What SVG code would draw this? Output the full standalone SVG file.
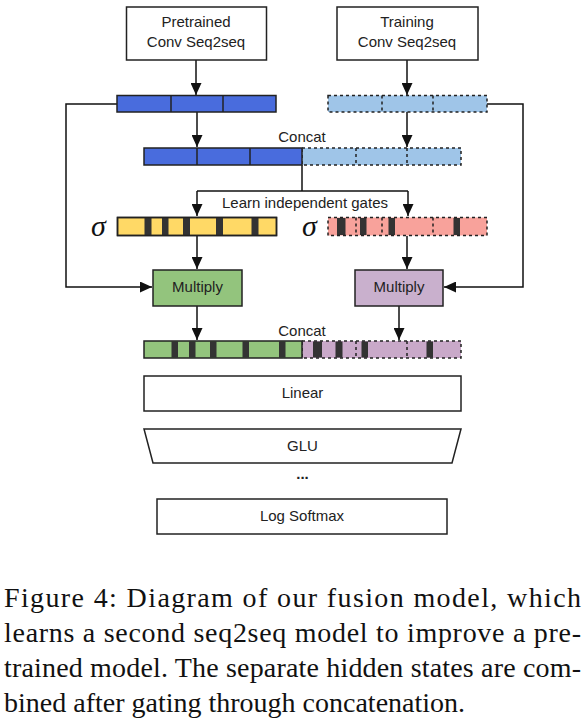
<svg xmlns="http://www.w3.org/2000/svg" width="586" height="723" viewBox="0 0 586 723">
<style>
.box{fill:#fff;stroke:#222;stroke-width:1.5}
.t{font-family:"Liberation Sans",Arial,sans-serif;font-size:15px;fill:#222;text-anchor:middle}
.bar{stroke:#222;stroke-width:1.5}
.dash{stroke:#222;stroke-width:1.5;stroke-dasharray:3 3}
.div{stroke:#222;stroke-width:1.5}
.ddiv{stroke:#222;stroke-width:1.5;stroke-dasharray:3 3}
.st{fill:#333}
.ln{fill:none;stroke:#111;stroke-width:1.5}
.sig{font-family:"Liberation Serif","Times New Roman",serif;font-style:italic;font-size:30px;fill:#111}
.cap{font-family:"Liberation Serif","Times New Roman",serif;font-size:28px;fill:#111}
</style>
<defs>
<marker id="ah" viewBox="0 0 12 11" refX="12" refY="5.5" markerWidth="12" markerHeight="11" orient="auto" markerUnits="userSpaceOnUse">
<path d="M0,0 L12,5.5 L0,11 Z" fill="#111"/>
</marker>
</defs>
<rect width="586" height="723" fill="#fff"/>

<g id="connectors">
<path class="ln" d="M196,60 V95" marker-end="url(#ah)"/>
<path class="ln" d="M407,60 V95" marker-end="url(#ah)"/>
<path class="ln" d="M197,112 V147" marker-end="url(#ah)"/>
<path class="ln" d="M407,112 V147" marker-end="url(#ah)"/>
<path class="ln" d="M117,104 H66 V287 H152" marker-end="url(#ah)"/>
<path class="ln" d="M487,104 H523 V287 H444" marker-end="url(#ah)"/>
<path class="ln" d="M302,165 V191"/>
<path class="ln" d="M197,191 H408"/>
<path class="ln" d="M197,191 V216" marker-end="url(#ah)"/>
<path class="ln" d="M408,191 V216" marker-end="url(#ah)"/>
<path class="ln" d="M197,236 V269" marker-end="url(#ah)"/>
<path class="ln" d="M407,236 V269" marker-end="url(#ah)"/>
<path class="ln" d="M197,306 V340" marker-end="url(#ah)"/>
<path class="ln" d="M399,306 V340" marker-end="url(#ah)"/>
</g>

<g id="pretrained">
<rect class="box" x="126.5" y="7" width="140" height="53"/>
<text class="t" x="196" y="27">Pretrained</text>
<text class="t" x="196" y="47">Conv Seq2seq</text>
</g>
<g id="training">
<rect class="box" x="337" y="7" width="141" height="53"/>
<text class="t" x="407" y="27">Training</text>
<text class="t" x="407" y="47">Conv Seq2seq</text>
</g>

<g id="pretrained-state">
<rect class="bar" x="117" y="95.5" width="159" height="16.5" fill="#496cdd"/>
<line class="div" x1="171" y1="95.5" x2="171" y2="112"/>
<line class="div" x1="223" y1="95.5" x2="223" y2="112"/>
</g>
<g id="training-state">
<rect class="dash" x="328" y="95.5" width="159" height="16.5" fill="#9fc5e8"/>
<line class="ddiv" x1="382" y1="95.5" x2="382" y2="112"/>
<line class="ddiv" x1="433" y1="95.5" x2="433" y2="112"/>
</g>

<g id="concat1">
<text class="t" x="302" y="142">Concat</text>
<rect x="302" y="148" width="159" height="17" fill="#9fc5e8" class="dash"/>
<rect class="bar" x="144" y="148" width="158" height="17" fill="#496cdd"/>
<line class="div" x1="197" y1="148" x2="197" y2="165"/>
<line class="div" x1="250" y1="148" x2="250" y2="165"/>
<line class="ddiv" x1="356" y1="148" x2="356" y2="165"/>
<line class="ddiv" x1="407" y1="148" x2="407" y2="165"/>
</g>

<g id="gates-label">
<text class="t" x="305" y="208">Learn independent gates</text>
</g>

<g id="gate-left">
<text class="sig" x="91" y="236">σ</text>
<rect class="bar" x="117.5" y="217.5" width="159" height="18" fill="#ffd966"/>
<rect class="st" x="144.5" y="218" width="7" height="17"/>
<rect class="st" x="162" y="218" width="6.5" height="17"/>
<rect class="st" x="183" y="218" width="7" height="17"/>
<rect class="st" x="216" y="218" width="7" height="17"/>
<rect class="st" x="251.5" y="218" width="7" height="17"/>
<rect x="117.5" y="217.5" width="159" height="18" fill="none" stroke="#222" stroke-width="1.5"/>
</g>

<g id="gate-right">
<text class="sig" x="302" y="236">σ</text>
<rect x="328" y="217.5" width="159" height="18" fill="#f8a29b"/>
<rect class="st" x="337" y="218" width="8.5" height="17"/>
<rect class="st" x="360" y="218" width="6.5" height="17"/>
<rect class="st" x="388.5" y="218" width="6.5" height="17"/>
<rect class="st" x="453.5" y="218" width="6.5" height="17"/>
<line class="ddiv" x1="356" y1="217.5" x2="356" y2="235.5"/>
<line class="ddiv" x1="382" y1="217.5" x2="382" y2="235.5"/>
<line class="ddiv" x1="433" y1="217.5" x2="433" y2="235.5"/>
<rect class="dash" x="328" y="217.5" width="159" height="18" fill="none"/>
</g>

<g id="multiply-left">
<rect x="153" y="270" width="89" height="36" fill="#93c47d" stroke="#222" stroke-width="1.5"/>
<text class="t" x="197.5" y="292">Multiply</text>
</g>
<g id="multiply-right">
<rect x="355" y="270" width="88" height="36" fill="#c9b0cd" stroke="#222" stroke-width="1.5"/>
<text class="t" x="399" y="292">Multiply</text>
</g>

<g id="concat2">
<text class="t" x="302" y="336">Concat</text>
<rect x="302" y="341" width="159" height="17" fill="#c9a9c9"/>
<rect class="st" x="313" y="341.5" width="9" height="16"/>
<rect class="st" x="335.5" y="341.5" width="7" height="16"/>
<rect class="st" x="361.5" y="341.5" width="6.5" height="16"/>
<rect class="st" x="426.5" y="341.5" width="6.5" height="16"/>
<line class="ddiv" x1="356" y1="341" x2="356" y2="358"/>
<line class="ddiv" x1="407" y1="341" x2="407" y2="358"/>
<rect class="dash" x="302" y="341" width="159" height="17" fill="none"/>
<rect x="144" y="341" width="158" height="17" fill="#93c47d"/>
<rect class="st" x="171.5" y="341.5" width="6.5" height="16"/>
<rect class="st" x="189" y="341.5" width="6.5" height="16"/>
<rect class="st" x="210" y="341.5" width="6.5" height="16"/>
<rect class="st" x="242.5" y="341.5" width="6.5" height="16"/>
<rect class="st" x="279" y="341.5" width="6.5" height="16"/>
<rect x="144" y="341" width="158" height="17" fill="none" stroke="#222" stroke-width="1.5"/>
</g>

<g id="linear">
<rect class="box" x="144" y="376" width="317" height="35"/>
<text class="t" x="302.5" y="398">Linear</text>
</g>
<g id="glu">
<polygon class="box" points="144,429 461,429 452,463 153,463"/>
<text class="t" x="302.5" y="451">GLU</text>
</g>
<g id="dots">
<text class="t" x="302.5" y="479" style="font-weight:bold">...</text>
</g>
<g id="logsoftmax">
<rect class="box" x="157" y="499" width="290" height="35"/>
<text class="t" x="302" y="521">Log Softmax</text>
</g>

<g id="caption">
<text class="cap" x="4" y="607" textLength="577" lengthAdjust="spacing">Figure 4:  Diagram of our fusion model, which</text>
<text class="cap" x="4" y="642" textLength="577" lengthAdjust="spacing">learns a second seq2seq model to improve a pre-</text>
<text class="cap" x="4" y="677" textLength="577" lengthAdjust="spacing">trained model. The separate hidden states are com-</text>
<text class="cap" x="4" y="712">bined after gating through concatenation.</text>
</g>
</svg>
